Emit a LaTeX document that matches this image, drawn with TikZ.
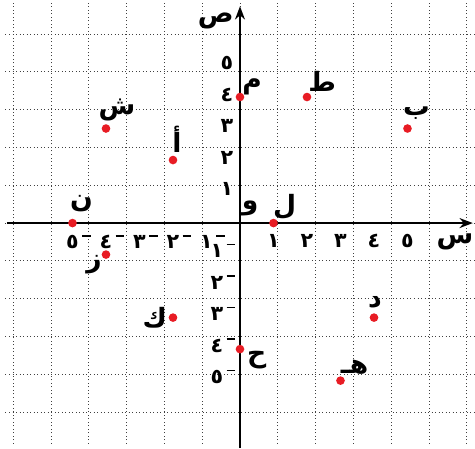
\documentclass[tikz,border=0pt]{standalone}
\usepackage{fontspec}
\newfontfamily\arabicfont[Script=Arabic]{DejaVu Sans}
\TeXXeTstate=1
\usetikzlibrary{arrows.meta}
\definecolor{ptred}{RGB}{232,28,36}
\newcommand{\arlbl}[1]{\beginR #1\endR}
\newcommand{\negd}[1]{#1\rlap{\,\raisebox{0.6em}{\rule{0.42em}{0.08em}}}}
\tikzset{
  gridline/.style={dotted, line width=0.65pt, black!75},
  axisline/.style={line width=1.5pt, -{Stealth[length=10pt,width=7.5pt]}},
  pt/.style={circle, fill=ptred, inner sep=0pt, minimum size=6.5pt},
  lbl/.style={font=\arabicfont\bfseries\fontsize{20}{22}\selectfont, inner sep=0pt},
  num/.style={font=\arabicfont\bfseries\fontsize{15.5}{17}\selectfont, inner sep=0pt}
}
\begin{document}
\begin{tikzpicture}[x=0.886cm, y=0.8334cm]
  \useasboundingbox (-7.164,-7.143) rectangle (7.015,7.079);
  % grid and axes
  \draw[gridline] (-7,-7) grid (7,7);
  \coordinate (xl) at (-6.96,0);
  \coordinate (xr) at (6.95,0);
  \coordinate (yb) at (0,-7.143);
  \coordinate (yt) at (0,6.88);
  \draw[axisline] (xl) -- (xr);
  \draw[axisline] (yb) -- (yt);
  \node[lbl] (sin) at (6.42,-0.6) {\arlbl{س}};
  \node[lbl] (sad) at (-0.72,6.4) {\arlbl{ص}};
  % axis numbers
  \foreach \k/\d in {1/١,2/٢,3/٣,4/٤,5/٥}{
    \node[num] (xp\k) at (\k,-0.57) {\d};
    \node[num] (xn\k) at (-\k,-0.6) {\negd{\d}};
    \node[num] (yp\k) at (-0.39,\k+0.07) {\d};
    \node[num] (yn\k) at (-0.69,-\k+0.12) {\negd{\d}};
  }
  % points
  \foreach \n/\x/\y in {sh/-4/3, alef/-2/2, nun/-5/0, mim/0/4, ta/2/4, ba/5/3,
                        lam/1/0, zay/-4/-1, kaf/-2/-3, ha/0/-4, dal/4/-3, heh/3/-5}
    \node[pt] (\n) at (\x,\y) {};
  \coordinate (waw) at (0,0);
  % point labels
  \node[lbl, shift={(0.33,0.6)}] at (sh) {\arlbl{ش}};
  \node[lbl, shift={(0.12,0.67)}] at (alef) {\arlbl{أ}};
  \node[lbl, shift={(0.27,0.63)}] at (nun) {\arlbl{ن}};
  \node[lbl, shift={(0.36,0.32)}] at (mim) {\arlbl{م}};
  \node[lbl, shift={(0.45,0.5)}] at (ta) {\arlbl{ط}};
  \node[lbl, shift={(0.27,0.5)}] at (ba) {\arlbl{ب}};
  \node[lbl, shift={(0.3,0.45)}] at (waw) {\arlbl{و}};
  \node[lbl, shift={(0.33,0.5)}] at (lam) {\arlbl{ل}};
  \node[lbl, shift={(-0.36,-0.32)}] at (zay) {\arlbl{ز}};
  \node[lbl, shift={(-0.54,0)}] at (kaf) {\arlbl{ك}};
  \node[lbl, shift={(0.5,-0.35)}] at (ha) {\arlbl{ح}};
  \node[lbl, shift={(0.03,0.48)}] at (dal) {\arlbl{د}};
  \node[lbl, shift={(0.42,0.44)}] at (heh) {\arlbl{هـ}};
\end{tikzpicture}
\end{document}
